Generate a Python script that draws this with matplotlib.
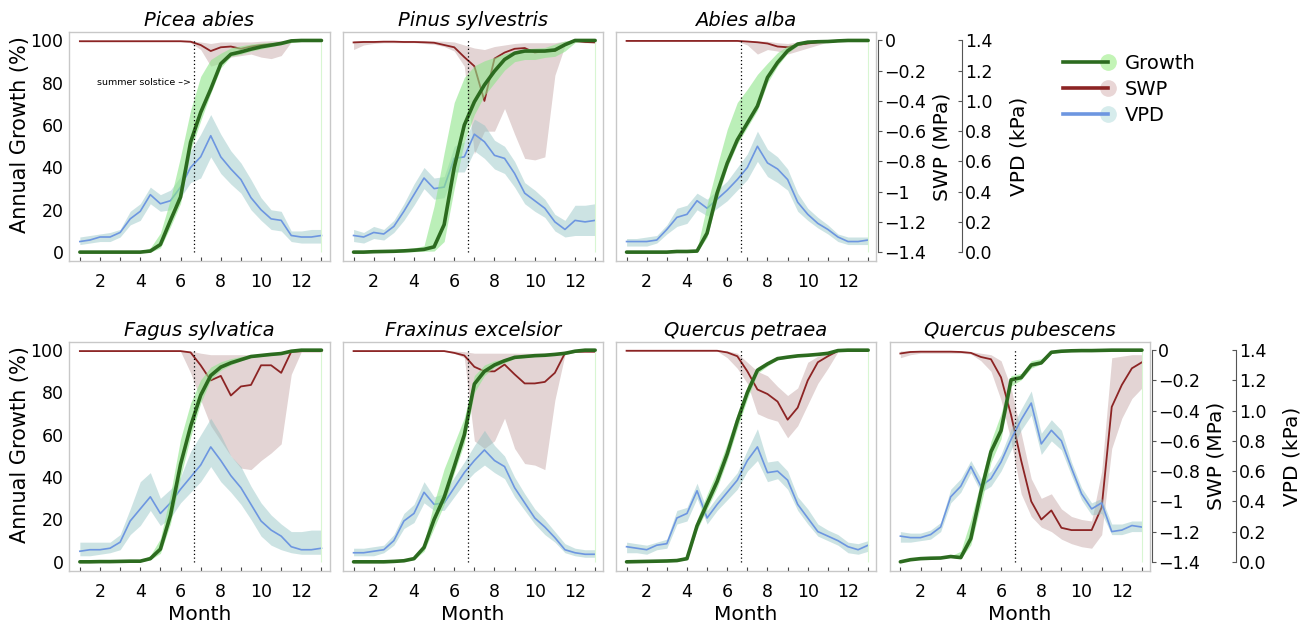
import matplotlib
matplotlib.use("Agg")
import matplotlib.pyplot as plt
from matplotlib.lines import Line2D
from matplotlib.legend_handler import HandlerBase

plt.rcParams['font.family'] = ['DejaVu Sans']

# ---------------- data ----------------
MONTHS = [1, 1.5, 2, 2.5, 3, 3.5, 4, 4.5, 5, 5.5, 6, 6.5, 7, 7.5, 8, 8.5, 9, 9.5, 10, 10.5, 11, 11.5, 12, 12.5, 13]
SOLSTICE = 6.67
MAJOR_TICKS = [2, 4, 6, 8, 10, 12]
MINOR_TICKS = [1, 3, 5, 7, 9, 11, 13]
GROWTH_TICKS = [0, 20, 40, 60, 80, 100]
SWP_TICKS = [0, -0.2, -0.4, -0.6, -0.8, -1.0, -1.2, -1.4]
SWP_TICKLABELS = ['0', '\u22120.2', '\u22120.4', '\u22120.6', '\u22120.8', '\u22121', '\u22121.2', '\u22121.4']
VPD_TICKS = [0, 0.2, 0.4, 0.6, 0.8, 1.0, 1.2, 1.4]
VPD_TICKLABELS = ['0.0', '0.2', '0.4', '0.6', '0.8', '1.0', '1.2', '1.4']

# Picea abies
PICEA_GROWTH = [0, 0, 0, 0, 0, 0, 0, 0.5, 3.6, 15, 26, 52, 66, 77, 89, 93.5, 94.6, 95.9, 97, 97.8, 98.6, 99.8, 100, 100, 100]
PICEA_GROWTH_LO = [0, 0, 0, 0, 0, 0, 0, 0, 2, 12, 23, 48, 62, 75, 87, 92.5, 93.5, 95, 96, 97, 98, 99, 99.5, 100, 100]
PICEA_GROWTH_HI = [0, 0, 0, 0, 0, 0, 0.5, 2, 9, 25, 45, 67, 83, 91, 94, 96.5, 97.5, 98.3, 98.8, 99.2, 99.5, 99.8, 100, 100, 100]
PICEA_SWP = [-0.005, -0.005, -0.005, -0.005, -0.005, -0.005, -0.005, -0.005, -0.005, -0.005, -0.005, -0.008, -0.03, -0.07, -0.045, -0.04, -0.055, -0.04, -0.03, -0.025, -0.02, -0.005, -0.003, -0.003, -0.003]
PICEA_SWP_LO = [-0.008, -0.008, -0.008, -0.008, -0.008, -0.008, -0.008, -0.008, -0.008, -0.008, -0.008, -0.015, -0.06, -0.17, -0.15, -0.11, -0.1, -0.09, -0.11, -0.12, -0.1, -0.01, -0.005, -0.005, -0.005]
PICEA_SWP_HI = [-0.002, -0.002, -0.002, -0.002, -0.002, -0.002, -0.002, -0.002, -0.002, -0.002, -0.002, -0.003, -0.01, -0.02, -0.01, -0.01, -0.01, -0.01, -0.005, -0.002, -0.002, -0.002, -0.002, -0.002, -0.002]
PICEA_VPD = [0.07, 0.08, 0.10, 0.10, 0.13, 0.22, 0.27, 0.38, 0.32, 0.34, 0.43, 0.56, 0.63, 0.77, 0.63, 0.55, 0.48, 0.36, 0.28, 0.22, 0.21, 0.11, 0.10, 0.10, 0.11]
PICEA_VPD_LO = [0.05, 0.06, 0.07, 0.07, 0.10, 0.18, 0.21, 0.32, 0.27, 0.28, 0.36, 0.46, 0.49, 0.63, 0.52, 0.45, 0.39, 0.28, 0.21, 0.15, 0.14, 0.07, 0.06, 0.06, 0.06]
PICEA_VPD_HI = [0.10, 0.11, 0.12, 0.13, 0.15, 0.27, 0.32, 0.43, 0.38, 0.41, 0.50, 0.67, 0.78, 0.91, 0.78, 0.67, 0.59, 0.48, 0.36, 0.28, 0.27, 0.14, 0.14, 0.15, 0.15]

# Pinus sylvestris
PINUS_GROWTH = [0, 0, 0.2, 0.3, 0.4, 0.6, 0.9, 1.3, 2.5, 13, 40, 60, 71, 79, 85.5, 91, 94, 95, 95, 95, 95.5, 98, 100, 100, 100]
PINUS_GROWTH_LO = [0, 0, 0, 0, 0, 0, 0.2, 0.4, 0.5, 5, 30, 52, 65, 74, 80, 86, 90, 91, 91, 92, 92.5, 95, 99, 100, 100]
PINUS_GROWTH_HI = [0.3, 0.5, 0.8, 1, 1.2, 1.5, 2, 3, 21.8, 47, 70.7, 82.5, 88, 90.4, 92, 93.8, 95, 96, 96.4, 96.7, 98.3, 99.8, 100, 100, 100]
PINUS_SWP = [-0.013, -0.01, -0.01, -0.008, -0.008, -0.01, -0.01, -0.012, -0.015, -0.03, -0.045, -0.11, -0.17, -0.40, -0.12, -0.08, -0.055, -0.05, -0.08, -0.07, -0.07, -0.03, -0.003, -0.01, -0.013]
PINUS_SWP_LO = [-0.06, -0.03, -0.02, -0.015, -0.015, -0.015, -0.015, -0.02, -0.025, -0.04, -0.07, -0.17, -0.75, -0.6, -0.6, -0.45, -0.62, -0.78, -0.79, -0.77, -0.23, -0.035, -0.01, -0.015, -0.015]
PINUS_SWP_HI = [-0.002, -0.002, -0.002, -0.002, -0.002, -0.002, -0.002, -0.002, -0.003, -0.005, -0.01, -0.03, -0.05, -0.06, -0.04, -0.03, -0.02, -0.015, -0.015, -0.015, -0.015, -0.005, 0, -0.005, -0.005]
PINUS_VPD = [0.11, 0.10, 0.13, 0.12, 0.17, 0.27, 0.38, 0.49, 0.42, 0.43, 0.62, 0.63, 0.78, 0.73, 0.64, 0.62, 0.52, 0.39, 0.34, 0.29, 0.20, 0.15, 0.21, 0.20, 0.21]
PINUS_VPD_LO = [0.07, 0.06, 0.09, 0.08, 0.13, 0.21, 0.31, 0.42, 0.35, 0.36, 0.53, 0.53, 0.67, 0.62, 0.55, 0.52, 0.43, 0.32, 0.27, 0.23, 0.14, 0.10, 0.11, 0.11, 0.11]
PINUS_VPD_HI = [0.15, 0.13, 0.17, 0.15, 0.21, 0.32, 0.45, 0.56, 0.49, 0.50, 0.70, 0.73, 0.88, 0.84, 0.74, 0.70, 0.60, 0.46, 0.41, 0.35, 0.25, 0.21, 0.31, 0.31, 0.32]

# Abies alba
ABIES_GROWTH = [0, 0, 0, 0, 0, 0.3, 0.3, 0.5, 9, 28, 42, 53, 61, 69, 82.5, 89.6, 95.1, 98.3, 99.2, 99.4, 99.5, 99.8, 100, 100, 100]
ABIES_GROWTH_LO = [0, 0, 0, 0, 0, 0, 0, 0, 7, 25, 40, 51, 59, 67, 80, 88, 94, 97.5, 99, 99.2, 99.4, 99.7, 100, 100, 100]
ABIES_GROWTH_HI = [0, 0, 0, 0, 0, 0.5, 0.5, 1.5, 22.5, 40.7, 58, 70.7, 77, 84, 89.3, 94.3, 97.5, 99, 99.5, 99.6, 99.7, 99.9, 100, 100, 100]
ABIES_SWP = [-0.003, -0.003, -0.003, -0.003, -0.003, -0.003, -0.003, -0.003, -0.003, -0.003, -0.003, -0.003, -0.007, -0.012, -0.02, -0.04, -0.045, -0.03, -0.02, -0.012, -0.008, -0.004, -0.002, -0.002, -0.002]
ABIES_SWP_LO = [-0.005, -0.005, -0.005, -0.005, -0.005, -0.005, -0.005, -0.005, -0.005, -0.005, -0.005, -0.005, -0.03, -0.09, -0.06, -0.07, -0.09, -0.07, -0.05, -0.03, -0.01, -0.005, -0.003, -0.003, -0.003]
ABIES_SWP_HI = [-0.001, -0.001, -0.001, -0.001, -0.001, -0.001, -0.001, -0.001, -0.001, -0.001, -0.001, -0.001, -0.002, -0.003, -0.005, -0.015, -0.02, -0.01, -0.005, -0.001, -0.001, -0.001, -0.001, -0.001, -0.001]
ABIES_VPD = [0.07, 0.07, 0.07, 0.08, 0.15, 0.23, 0.25, 0.34, 0.29, 0.35, 0.41, 0.48, 0.56, 0.70, 0.59, 0.55, 0.48, 0.33, 0.25, 0.19, 0.15, 0.10, 0.07, 0.07, 0.08]
ABIES_VPD_LO = [0.04, 0.04, 0.04, 0.06, 0.12, 0.17, 0.19, 0.28, 0.24, 0.29, 0.34, 0.41, 0.48, 0.60, 0.50, 0.46, 0.41, 0.27, 0.21, 0.16, 0.12, 0.07, 0.05, 0.05, 0.05]
ABIES_VPD_HI = [0.09, 0.09, 0.10, 0.11, 0.18, 0.29, 0.31, 0.39, 0.35, 0.41, 0.47, 0.56, 0.65, 0.80, 0.68, 0.63, 0.55, 0.39, 0.29, 0.23, 0.18, 0.12, 0.10, 0.10, 0.10]

# Fagus sylvatica
FAGUS_GROWTH = [0, 0, 0.1, 0.1, 0.2, 0.3, 0.3, 1.5, 6, 22, 46, 64, 78.7, 88, 92, 94, 95.5, 97, 97.5, 98, 98.4, 99.5, 100, 100, 100]
FAGUS_GROWTH_LO = [0, 0, 0, 0, 0, 0, 0, 1, 4, 18, 40, 59, 75, 86, 90.5, 93, 95, 96.5, 97, 97.5, 98, 99, 99.8, 100, 100]
FAGUS_GROWTH_HI = [0, 0, 0.2, 0.2, 0.3, 0.5, 0.6, 3, 11, 32, 58, 75, 86, 92, 94.5, 96, 97, 97.8, 98.2, 98.5, 98.8, 99.7, 100, 100, 100]
FAGUS_SWP = [-0.006, -0.006, -0.006, -0.006, -0.006, -0.006, -0.006, -0.006, -0.006, -0.006, -0.006, -0.015, -0.1, -0.2, -0.17, -0.3, -0.24, -0.23, -0.1, -0.1, -0.15, -0.01, -0.007, -0.007, -0.007]
FAGUS_SWP_LO = [-0.008, -0.008, -0.008, -0.008, -0.008, -0.008, -0.008, -0.008, -0.008, -0.008, -0.008, -0.15, -0.33, -0.5, -0.6, -0.7, -0.78, -0.79, -0.73, -0.68, -0.62, -0.16, -0.01, -0.01, -0.01]
FAGUS_SWP_HI = [-0.002, -0.002, -0.002, -0.002, -0.002, -0.002, -0.002, -0.002, -0.002, -0.002, -0.002, -0.005, -0.02, -0.03, -0.03, -0.03, -0.03, -0.03, -0.03, -0.03, -0.03, -0.005, -0.002, -0.002, -0.002]
FAGUS_VPD = [0.07, 0.08, 0.08, 0.09, 0.13, 0.27, 0.35, 0.43, 0.32, 0.39, 0.48, 0.56, 0.64, 0.76, 0.67, 0.57, 0.49, 0.38, 0.27, 0.21, 0.17, 0.10, 0.08, 0.08, 0.09]
FAGUS_VPD_LO = [0.04, 0.04, 0.05, 0.06, 0.08, 0.18, 0.24, 0.34, 0.24, 0.29, 0.39, 0.46, 0.53, 0.63, 0.53, 0.46, 0.38, 0.28, 0.17, 0.11, 0.08, 0.06, 0.05, 0.05, 0.05]
FAGUS_VPD_HI = [0.13, 0.13, 0.13, 0.13, 0.18, 0.35, 0.53, 0.59, 0.42, 0.48, 0.56, 0.73, 0.84, 0.95, 0.84, 0.70, 0.63, 0.50, 0.39, 0.31, 0.25, 0.20, 0.20, 0.21, 0.21]

# Fraxinus excelsior
FRAXINUS_GROWTH = [0, 0, 0, 0, 0.2, 0.5, 1.5, 6.8, 20, 30.5, 45, 60, 84, 90, 93, 95, 96.6, 97, 97.4, 97.6, 98, 98.5, 99.5, 100, 100]
FRAXINUS_GROWTH_LO = [0, 0, 0, 0, 0, 0.2, 1, 5, 16, 27, 42, 56, 80, 88, 92, 94, 96, 96.5, 97, 97.2, 97.6, 98, 99, 99.8, 100]
FRAXINUS_GROWTH_HI = [0, 0, 0, 0, 0.3, 0.8, 2, 9, 28, 44, 56, 68, 88, 93, 95, 96, 97.2, 97.6, 98, 98.2, 98.5, 99, 100, 100, 100]
FRAXINUS_SWP = [-0.006, -0.006, -0.006, -0.006, -0.006, -0.006, -0.006, -0.006, -0.006, -0.006, -0.018, -0.035, -0.11, -0.14, -0.14, -0.095, -0.16, -0.22, -0.22, -0.21, -0.15, -0.02, -0.01, -0.01, -0.01]
FRAXINUS_SWP_LO = [-0.008, -0.008, -0.008, -0.008, -0.008, -0.008, -0.008, -0.008, -0.008, -0.008, -0.02, -0.05, -0.6, -0.65, -0.6, -0.45, -0.65, -0.75, -0.76, -0.79, -0.33, -0.03, -0.015, -0.015, -0.015]
FRAXINUS_SWP_HI = [-0.002, -0.002, -0.002, -0.002, -0.002, -0.002, -0.002, -0.002, -0.002, -0.002, -0.005, -0.01, -0.02, -0.02, -0.02, -0.02, -0.02, -0.02, -0.02, -0.02, -0.02, -0.005, -0.005, -0.005, -0.005]
FRAXINUS_VPD = [0.06, 0.06, 0.07, 0.08, 0.14, 0.27, 0.32, 0.46, 0.38, 0.39, 0.49, 0.59, 0.67, 0.74, 0.67, 0.63, 0.49, 0.39, 0.29, 0.23, 0.16, 0.08, 0.06, 0.05, 0.05]
FRAXINUS_VPD_LO = [0.04, 0.04, 0.04, 0.06, 0.11, 0.22, 0.26, 0.39, 0.34, 0.34, 0.43, 0.52, 0.59, 0.64, 0.59, 0.55, 0.43, 0.34, 0.25, 0.18, 0.13, 0.06, 0.04, 0.03, 0.03]
FRAXINUS_VPD_HI = [0.09, 0.09, 0.10, 0.11, 0.18, 0.32, 0.38, 0.53, 0.43, 0.45, 0.56, 0.66, 0.77, 0.87, 0.77, 0.70, 0.56, 0.45, 0.35, 0.28, 0.20, 0.12, 0.09, 0.08, 0.08]

# Quercus petraea
QPET_GROWTH = [0, 0.1, 0.2, 0.3, 0.4, 0.6, 1.5, 17, 27.5, 38, 51, 66.5, 80, 90.5, 93.5, 96, 96.7, 97.3, 97.6, 98, 98.5, 99.8, 100, 100, 100]
QPET_GROWTH_LO = [0, 0, 0, 0, 0, 0.2, 1, 15, 25, 35, 48, 63, 77, 89, 92.5, 95.5, 96.3, 97, 97.3, 97.7, 98.2, 99.5, 99.8, 100, 100]
QPET_GROWTH_HI = [0.1, 0.2, 0.3, 0.4, 0.6, 0.9, 3, 20, 32, 43, 56, 70, 83, 92, 94.5, 96.5, 97.1, 97.6, 97.9, 98.3, 98.8, 100, 100, 100, 100]
QPET_SWP = [-0.004, -0.004, -0.004, -0.004, -0.004, -0.004, -0.004, -0.004, -0.004, -0.004, -0.015, -0.04, -0.14, -0.26, -0.29, -0.34, -0.46, -0.38, -0.2, -0.08, -0.04, -0.005, -0.004, -0.004, -0.004]
QPET_SWP_LO = [-0.006, -0.006, -0.006, -0.006, -0.006, -0.006, -0.006, -0.006, -0.006, -0.006, -0.05, -0.12, -0.22, -0.42, -0.45, -0.47, -0.58, -0.5, -0.36, -0.22, -0.12, -0.01, -0.006, -0.006, -0.006]
QPET_SWP_HI = [-0.002, -0.002, -0.002, -0.002, -0.002, -0.002, -0.002, -0.002, -0.002, -0.002, -0.005, -0.02, -0.08, -0.14, -0.17, -0.24, -0.3, -0.25, -0.08, -0.04, -0.02, -0.002, -0.002, -0.002, -0.002]
QPET_VPD = [0.10, 0.09, 0.08, 0.11, 0.12, 0.29, 0.32, 0.47, 0.29, 0.38, 0.46, 0.54, 0.67, 0.76, 0.59, 0.60, 0.54, 0.38, 0.29, 0.20, 0.17, 0.14, 0.10, 0.08, 0.11]
QPET_VPD_LO = [0.06, 0.06, 0.05, 0.08, 0.09, 0.25, 0.27, 0.42, 0.25, 0.34, 0.41, 0.48, 0.60, 0.67, 0.53, 0.55, 0.48, 0.34, 0.25, 0.17, 0.14, 0.11, 0.06, 0.05, 0.07]
QPET_VPD_HI = [0.13, 0.12, 0.11, 0.13, 0.15, 0.34, 0.36, 0.52, 0.34, 0.43, 0.51, 0.59, 0.74, 0.88, 0.66, 0.67, 0.60, 0.43, 0.35, 0.25, 0.21, 0.18, 0.13, 0.12, 0.14]

# Quercus pubescens
QPUB_GROWTH = [0, 1, 1.5, 1.7, 1.8, 2.5, 2, 11, 33, 52, 62, 86, 87, 93, 94, 99, 99.5, 99.7, 99.8, 99.8, 99.9, 100, 100, 100, 100]
QPUB_GROWTH_LO = [0, 0.8, 1.3, 1.5, 1.6, 2.2, 1.5, 8, 27, 47, 58, 83, 86, 91.5, 93.5, 98.5, 99.2, 99.5, 99.7, 99.7, 99.8, 99.9, 100, 100, 100]
QPUB_GROWTH_HI = [0.2, 1.2, 1.7, 1.9, 2, 2.8, 5, 20, 38, 57, 70, 88, 89, 95, 96, 99.5, 99.8, 99.9, 100, 100, 100, 100, 100, 100, 100]
QPUB_SWP = [-0.022, -0.012, -0.01, -0.01, -0.01, -0.01, -0.012, -0.018, -0.045, -0.06, -0.18, -0.43, -0.73, -1.0, -1.12, -1.06, -1.175, -1.19, -1.19, -1.19, -1.04, -0.375, -0.23, -0.12, -0.08]
QPUB_SWP_LO = [-0.05, -0.03, -0.02, -0.02, -0.02, -0.02, -0.02, -0.025, -0.07, -0.14, -0.33, -0.6, -0.95, -1.1, -1.17, -1.2, -1.25, -1.28, -1.3, -1.31, -1.22, -0.65, -0.45, -0.32, -0.25]
QPUB_SWP_HI = [-0.005, -0.004, -0.004, -0.004, -0.004, -0.004, -0.005, -0.01, -0.02, -0.03, -0.07, -0.25, -0.55, -0.85, -0.98, -0.95, -1.05, -1.1, -1.12, -1.13, -0.8, -0.05, -0.04, -0.03, -0.03]
QPUB_VPD = [0.17, 0.16, 0.16, 0.18, 0.23, 0.43, 0.50, 0.63, 0.50, 0.55, 0.66, 0.81, 0.94, 1.05, 0.78, 0.87, 0.80, 0.62, 0.45, 0.35, 0.39, 0.20, 0.21, 0.24, 0.23]
QPUB_VPD_LO = [0.13, 0.13, 0.14, 0.15, 0.20, 0.39, 0.46, 0.59, 0.46, 0.50, 0.60, 0.74, 0.87, 0.97, 0.71, 0.80, 0.74, 0.57, 0.41, 0.31, 0.32, 0.18, 0.18, 0.20, 0.20]
QPUB_VPD_HI = [0.20, 0.19, 0.19, 0.21, 0.26, 0.48, 0.55, 0.67, 0.55, 0.60, 0.71, 0.88, 1.01, 1.13, 0.85, 0.94, 0.87, 0.66, 0.49, 0.39, 0.42, 0.25, 0.25, 0.27, 0.27]

SPECIES = ['Picea abies', 'Pinus sylvestris', 'Abies alba', 'Fagus sylvatica',
           'Fraxinus excelsior', 'Quercus petraea', 'Quercus pubescens']
SERIES = [
    (PICEA_GROWTH, PICEA_GROWTH_LO, PICEA_GROWTH_HI, PICEA_SWP, PICEA_SWP_LO, PICEA_SWP_HI, PICEA_VPD, PICEA_VPD_LO, PICEA_VPD_HI),
    (PINUS_GROWTH, PINUS_GROWTH_LO, PINUS_GROWTH_HI, PINUS_SWP, PINUS_SWP_LO, PINUS_SWP_HI, PINUS_VPD, PINUS_VPD_LO, PINUS_VPD_HI),
    (ABIES_GROWTH, ABIES_GROWTH_LO, ABIES_GROWTH_HI, ABIES_SWP, ABIES_SWP_LO, ABIES_SWP_HI, ABIES_VPD, ABIES_VPD_LO, ABIES_VPD_HI),
    (FAGUS_GROWTH, FAGUS_GROWTH_LO, FAGUS_GROWTH_HI, FAGUS_SWP, FAGUS_SWP_LO, FAGUS_SWP_HI, FAGUS_VPD, FAGUS_VPD_LO, FAGUS_VPD_HI),
    (FRAXINUS_GROWTH, FRAXINUS_GROWTH_LO, FRAXINUS_GROWTH_HI, FRAXINUS_SWP, FRAXINUS_SWP_LO, FRAXINUS_SWP_HI, FRAXINUS_VPD, FRAXINUS_VPD_LO, FRAXINUS_VPD_HI),
    (QPET_GROWTH, QPET_GROWTH_LO, QPET_GROWTH_HI, QPET_SWP, QPET_SWP_LO, QPET_SWP_HI, QPET_VPD, QPET_VPD_LO, QPET_VPD_HI),
    (QPUB_GROWTH, QPUB_GROWTH_LO, QPUB_GROWTH_HI, QPUB_SWP, QPUB_SWP_LO, QPUB_SWP_HI, QPUB_VPD, QPUB_VPD_LO, QPUB_VPD_HI),
]
# (row, col, left labels, right axes, month label)
PLACES = [(0, 0, True, False, False), (0, 1, False, False, False), (0, 2, False, True, False),
          (1, 0, True, False, True), (1, 1, False, False, True), (1, 2, False, False, True),
          (1, 3, False, True, True)]

# ---------------- style ----------------
G_LINE, G_BAND, G_DOT = '#2c6b1f', '#8fe58a', '#c3f4b6'
S_LINE, S_BAND, S_DOT = '#8c2424', '#b99494', '#e9d6d6'
V_LINE, V_BAND, V_DOT = '#6d96e0', '#8fc2c2', '#d6ecec'
FRAME = '#c8c8c8'
AXIS_DARK = '#555555'

W, H = 1313, 629
fig = plt.figure(figsize=(W / 100, H / 100), dpi=100)
fig.patch.set_facecolor('white')

COL_LEFT_PX = [69, 342.7, 615.7, 889.5]
ROW_TOP_PX = [32, 341.7]
AX_W_PX, AX_H_PX = 260.5, 228.8
XLIM = (0.46, 13.4)
GLIM = (-4.1, 104.0)
SWPLIM = ((GLIM[0] - 100) / 100 * 1.4, (GLIM[1] - 100) / 100 * 1.4)
VPDLIM = (GLIM[0] / 100 * 1.4, GLIM[1] / 100 * 1.4)

TICK_FS = 12.5
LABEL_FS = 14.5
PX2PT = 0.72

for name, ser, place in zip(SPECIES, SERIES, PLACES):
    row, col, show_left, show_right, show_month = place
    g, glo, ghi, s, slo, shi, v, vlo, vhi = ser
    rect = [COL_LEFT_PX[col] / W, 1 - (ROW_TOP_PX[row] + AX_H_PX) / H, AX_W_PX / W, AX_H_PX / H]
    ax = fig.add_axes(rect)
    ax_s = ax.twinx()
    ax_v = ax.twinx()
    ax_s.set_zorder(1)
    ax_v.set_zorder(2)
    ax.set_zorder(3)
    ax.patch.set_visible(False)

    # SWP
    ax_s.fill_between(MONTHS, slo, shi, color=S_BAND, alpha=0.4, lw=0)
    ax_s.plot(MONTHS, s, color=S_LINE, lw=1.3)
    # VPD
    ax_v.fill_between(MONTHS, vlo, vhi, color=V_BAND, alpha=0.45, lw=0)
    ax_v.plot(MONTHS, v, color=V_LINE, lw=1.2)
    # Growth
    ax.fill_between(MONTHS, glo, ghi, color=G_BAND, alpha=0.6, lw=0)
    ax.vlines(MONTHS[-1], 0, 100, colors='#d8f6d2', lw=0.8)
    ax.plot(MONTHS, g, color=G_LINE, lw=2.6, solid_capstyle='round')
    ax.vlines(SOLSTICE, 0, 100, colors='black', linestyles=(0, (1, 2)), lw=0.9)

    ax.set_xlim(XLIM)
    ax.set_ylim(GLIM)
    ax_s.set_ylim(SWPLIM)
    ax_v.set_ylim(VPDLIM)

    for sp in ax.spines.values():
        sp.set_color(FRAME)
        sp.set_linewidth(1.0)
    for tw in (ax_s, ax_v):
        for sp in tw.spines.values():
            sp.set_visible(False)

    ax.set_xticks(MAJOR_TICKS)
    ax.set_xticklabels([str(t) for t in MAJOR_TICKS])
    ax.set_xticks(MINOR_TICKS, minor=True)
    ax.tick_params(axis='x', which='both', direction='in', length=3, width=0.8,
                   color='#444444', pad=9, labelsize=TICK_FS)

    if show_left:
        ax.set_yticks(GROWTH_TICKS)
        ax.set_yticklabels([str(t) for t in GROWTH_TICKS])
        ax.tick_params(axis='y', length=0, pad=4, labelsize=TICK_FS)
        ax.set_ylabel('Annual Growth (%)', fontsize=15)
        ax.yaxis.set_label_coords(-0.148, 0.55)
    else:
        ax.set_yticks([])

    if show_right:
        ax_s.spines['right'].set_visible(True)
        ax_s.spines['right'].set_position(('outward', 2 * PX2PT))
        ax_s.spines['right'].set_bounds(-1.4, 0)
        ax_s.spines['right'].set_color(AXIS_DARK)
        ax_s.set_yticks(SWP_TICKS)
        ax_s.set_yticklabels(SWP_TICKLABELS)
        ax_s.tick_params(axis='y', direction='out', length=3, width=0.8, color=AXIS_DARK,
                         pad=1.5, labelsize=TICK_FS)
        ax_s.set_ylabel('SWP (MPa)', fontsize=LABEL_FS)
        ax_s.yaxis.set_label_coords(1.215, 0.5)

        ax_v.spines['right'].set_visible(True)
        ax_v.spines['right'].set_position(('outward', 86 * PX2PT))
        ax_v.spines['right'].set_bounds(0, 1.4)
        ax_v.spines['right'].set_color(AXIS_DARK)
        ax_v.set_yticks(VPD_TICKS)
        ax_v.set_yticklabels(VPD_TICKLABELS)
        ax_v.tick_params(axis='y', direction='in', length=3, width=0.8, color=AXIS_DARK,
                         pad=2, labelsize=TICK_FS)
        ax_v.set_ylabel('VPD (kPa)', fontsize=LABEL_FS)
        ax_v.yaxis.set_label_coords(1.51, 0.5)
    else:
        ax_s.set_yticks([])
        ax_v.set_yticks([])

    if show_month:
        ax.set_xlabel('Month', fontsize=LABEL_FS, labelpad=3)

    ax.set_title(name, fontsize=14, style='italic', pad=4)

    if name == 'Picea abies':
        ax.text(6.5, 80, 'summer solstice \u2013>', fontsize=6.8, ha='right', va='center')


class EndDotHandler(HandlerBase):
    def create_artists(self, legend, orig_handle, xdescent, ydescent, width, height, fontsize, trans):
        y = height / 2 - ydescent
        dot = Line2D([width - xdescent], [y], marker='o', linestyle='none',
                     markersize=orig_handle.get_markersize(),
                     markerfacecolor=orig_handle.get_markerfacecolor(),
                     markeredgecolor=orig_handle.get_markerfacecolor(), transform=trans)
        line = Line2D([-xdescent, width - xdescent], [y, y], color=orig_handle.get_color(),
                      lw=orig_handle.get_linewidth(), transform=trans)
        return [dot, line]


LEGEND_LABELS = ['Growth', 'SWP', 'VPD']
handles = [
    Line2D([], [], color=G_LINE, lw=2.6, marker='o', markersize=11, markerfacecolor=G_DOT),
    Line2D([], [], color=S_LINE, lw=2.6, marker='o', markersize=11, markerfacecolor=S_DOT),
    Line2D([], [], color=V_LINE, lw=2.6, marker='o', markersize=11, markerfacecolor=V_DOT),
]
fig.legend(handles, LEGEND_LABELS, loc='upper left', bbox_to_anchor=(1063 / W, 1 - 54 / H),
           frameon=False, fontsize=14, handlelength=2.3, handletextpad=0.9,
           labelspacing=0.35, borderpad=0, borderaxespad=0,
           handler_map={Line2D: EndDotHandler()})

fig.savefig('out.png', dpi=100, facecolor='white')
